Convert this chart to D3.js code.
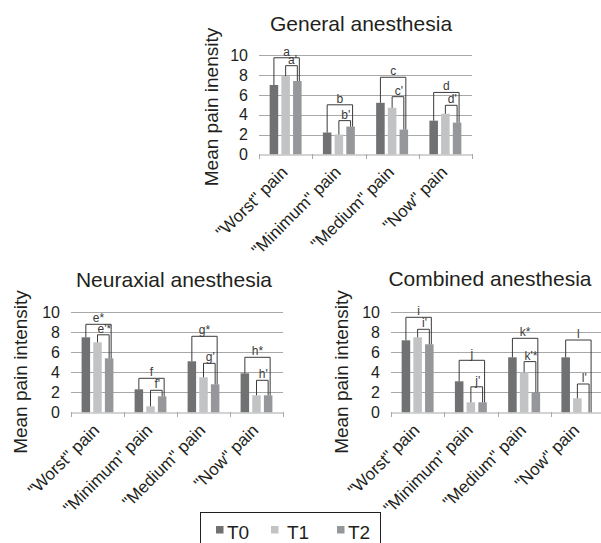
<!DOCTYPE html>
<html><head><meta charset="utf-8">
<script src="https://cdn.jsdelivr.net/npm/d3@7"></script>
<style>body{margin:0;background:#fff}svg{display:block}</style>
</head><body>
<svg id="c" width="601" height="543"></svg>
<script>
const categories = ['"Worst" pain', '"Minimum" pain', '"Medium" pain', '"Now" pain'];
const seriesNames = ['T0', 'T1', 'T2'];
const yTicks = [0, 2, 4, 6, 8, 10];

const generalT0 = [7.0, 2.2, 5.2, 3.4];
const generalT1 = [7.9, 2.0, 4.7, 4.1];
const generalT2 = [7.4, 2.8, 2.5, 3.2];
const generalBig = [9.75, 5.0, 7.78, 6.25];
const generalBigLabels = ['a', 'b', 'c', 'd'];
const generalSmall = [8.95, 3.4, 5.82, 4.95];
const generalSmallLabels = ["a'", "b'", "c'", "d'"];

const neuraxialT0 = [7.5, 2.3, 5.1, 3.9];
const neuraxialT1 = [7.0, 0.6, 3.5, 1.7];
const neuraxialT2 = [5.4, 1.6, 2.8, 1.7];
const neuraxialBig = [8.8, 3.4, 7.6, 5.5];
const neuraxialBigLabels = ['e*', 'f', 'g*', 'h*'];
const neuraxialSmall = [7.75, 2.2, 4.9, 3.2];
const neuraxialSmallLabels = ["e'*", "f'", "g'", "h'"];

const combinedT0 = [7.2, 3.1, 5.5, 5.5];
const combinedT1 = [7.5, 1.0, 4.0, 1.4];
const combinedT2 = [6.8, 1.0, 2.0, 0];
const combinedBig = [9.5, 5.2, 7.4, 7.23];
const combinedBigLabels = ['i', 'j', 'k*', 'l'];
const combinedSmall = [8.3, 2.55, 5.07, 2.83];
const combinedSmallLabels = ["i'", "j'", "k'*", "l'"];

const colors = {T0: '#707173', T1: '#c2c3c5', T2: '#96979a'};
const FONT = '"Liberation Sans", Arial, sans-serif';
const svg = d3.select('#c');

function panel(cfg) {
  const g = svg.append('g');
  const x = d3.scaleBand().domain(categories).range([cfg.x0, cfg.x1]).paddingInner(0).paddingOuter(0);
  const y = d3.scaleLinear().domain([0, 10]).range([cfg.y0, cfg.y10]);
  const bw = x.bandwidth();
  const xs = d3.scaleBand().domain(seriesNames).range([bw * 0.2, bw * 0.8]).paddingInner(0.27);
  const vals = {T0: cfg.t0, T1: cfg.t1, T2: cfg.t2};

  g.selectAll('line.grid').data(yTicks.filter(d => d > 0)).join('line')
    .attr('x1', cfg.x0).attr('x2', cfg.x1)
    .attr('y1', d => Math.round(y(d)) + 0.5).attr('y2', d => Math.round(y(d)) + 0.5)
    .attr('stroke', '#a8a8a8').attr('stroke-width', 1);

  g.selectAll('text.yt').data(yTicks).join('text')
    .attr('x', cfg.x0 - 11).attr('y', d => y(d)).attr('dy', '0.35em')
    .attr('text-anchor', 'end').attr('font-family', FONT).attr('font-size', 16).attr('fill', '#231f20')
    .text(d => d);

  seriesNames.forEach(s => {
    g.selectAll('rect.b' + s).data(categories).join('rect')
      .attr('x', c => x(c) + xs(s)).attr('width', xs.bandwidth())
      .attr('y', (c, i) => y(vals[s][i])).attr('height', (c, i) => y(0) - y(vals[s][i]))
      .attr('fill', colors[s]);
  });

  const ax = g.append('g').attr('transform', `translate(0,${Math.round(y(0)) + 0.5})`)
    .call(d3.axisBottom(x).tickSize(0).tickFormat(''));
  ax.select('.domain').attr('stroke', '#a8a8a8');
  const bounds = categories.map(c => x(c)).concat([cfg.x1]);
  g.selectAll('line.xt').data(bounds).join('line')
    .attr('x1', d => Math.round(d) + 0.5).attr('x2', d => Math.round(d) + 0.5)
    .attr('y1', Math.round(y(0))).attr('y2', Math.round(y(0)) + 5)
    .attr('stroke', '#a8a8a8');

  g.selectAll('text.cat').data(categories).join('text')
    .attr('transform', c => `translate(${x(c) + bw / 2 + 3},${y(0) + 19}) rotate(-45)`)
    .attr('text-anchor', 'end').attr('font-family', FONT).attr('font-size', 17).attr('fill', '#231f20')
    .text(c => c);

  const cx = (c, s) => x(c) + xs(s) + xs.bandwidth() / 2;
  const br = g.append('g').attr('fill', 'none').attr('stroke', '#3a3a3a').attr('stroke-width', 1);
  categories.forEach((c, i) => {
    const a = cx(c, 'T0'), b = cx(c, 'T2') + 2, yb = y(cfg.big[i]);
    br.append('path').attr('d', `M${a},${y(vals.T0[i])}V${yb}H${b}V${y(vals.T2[i])}`);
    const a2 = cx(c, 'T1'), b2 = cx(c, 'T2'), ys = y(cfg.small[i]);
    br.append('path').attr('d', `M${a2},${y(vals.T1[i])}V${ys}H${b2}V${y(vals.T2[i])}`);
    g.append('text').attr('x', (a + b) / 2).attr('y', yb - 2).attr('text-anchor', 'middle')
      .attr('font-family', FONT).attr('font-size', 12).attr('fill', '#3a3a3a').text(cfg.bigLabels[i]);
    g.append('text').attr('x', (a2 + b2) / 2 + 1).attr('y', ys - 2).attr('text-anchor', 'middle')
      .attr('font-family', FONT).attr('font-size', 12).attr('fill', '#3a3a3a').text(cfg.smallLabels[i]);
  });

  g.append('text').attr('x', cfg.tx).attr('y', cfg.ty).attr('text-anchor', 'middle')
    .attr('font-family', FONT).attr('font-size', 21).attr('fill', '#231f20').text(cfg.title);
  g.append('text').attr('transform', `translate(${cfg.yx},${cfg.yy}) rotate(-90)`)
    .attr('text-anchor', 'middle').attr('dy', '0.35em')
    .attr('font-family', FONT).attr('font-size', 19).attr('fill', '#231f20').text(cfg.ytitle);
}

panel({x0: 259, x1: 472, y0: 154.3, y10: 55.3, t0: generalT0, t1: generalT1, t2: generalT2,
  big: generalBig, bigLabels: generalBigLabels, small: generalSmall, smallLabels: generalSmallLabels,
  title: 'General anesthesia', tx: 361, ty: 31, ytitle: 'Mean pain inensity', yx: 211, yy: 107});
panel({x0: 71, x1: 283, y0: 412.3, y10: 312.3, t0: neuraxialT0, t1: neuraxialT1, t2: neuraxialT2,
  big: neuraxialBig, bigLabels: neuraxialBigLabels, small: neuraxialSmall, smallLabels: neuraxialSmallLabels,
  title: 'Neuraxial anesthesia', tx: 174, ty: 287, ytitle: 'Mean pain intensity', yx: 20, yy: 372});
panel({x0: 391, x1: 604, y0: 412.3, y10: 312.3, t0: combinedT0, t1: combinedT1, t2: combinedT2,
  big: combinedBig, bigLabels: combinedBigLabels, small: combinedSmall, smallLabels: combinedSmallLabels,
  title: 'Combined anesthesia', tx: 490, ty: 286, ytitle: 'Mean pain intensity', yx: 341, yy: 372});

const lg = svg.append('g');
lg.append('rect').attr('x', 200.5).attr('y', 512.5).attr('width', 180).attr('height', 40)
  .attr('fill', 'none').attr('stroke', '#231f20').attr('stroke-width', 1);
const legendSquareX = [216, 271, 337];
const legendTextX = [227, 287, 348];
seriesNames.forEach((s, i) => {
  lg.append('rect').attr('x', legendSquareX[i]).attr('y', 526).attr('width', 7.5).attr('height', 7.5).attr('fill', colors[s]);
  lg.append('text').attr('x', legendTextX[i]).attr('y', 538.5).attr('font-family', FONT).attr('font-size', 19)
    .attr('fill', '#231f20').text(s);
});
</script>
</body></html>
